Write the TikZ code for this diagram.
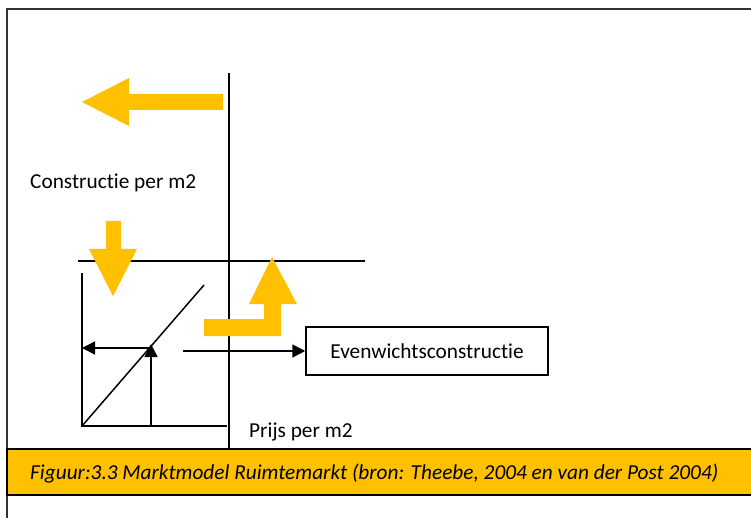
\documentclass[tikz,border=0pt]{standalone}
\usepackage{fontspec}
\setmainfont{Carlito}[Ligatures={NoCommon}]
\definecolor{markyellow}{HTML}{FFC000}
\usetikzlibrary{arrows.meta, positioning, calc}
\tikzset{
    mmline/.style={line width=1.5pt},
    mmarrow/.style={-{Triangle[length=13pt,width=13pt]}, line width=1.5pt},
    mmblock/.style={fill=markyellow, draw=none},
    mmbox/.style={draw, line width=1.5pt, minimum width=242pt, minimum height=48pt, inner sep=0pt, font=\fontsize{21.3}{25}\selectfont},
    mmlabel/.style={inner sep=0pt, anchor=base west, font=\fontsize{21.3}{25}\selectfont},
    mmcaption/.style={inner sep=0pt, anchor=base west, font=\fontsize{21.3}{25}\selectfont\itshape}
}

\begin{document}
\begin{tikzpicture}[x=1pt, y=-1pt]
  \clip (0,0) rectangle (751,518);
  % outer frame
  \draw[line width=2pt, black!80] (7,9) rectangle (780,560);

  % axes and reference lines
  \coordinate (vtop) at (229,73);
  \coordinate (vbot) at (229,449);
  \coordinate (hleft) at (78,261);
  \coordinate (hright) at (365,261);
  \coordinate (orig) at (82,426);
  \coordinate (ytop) at (82,273);
  \coordinate (xend) at (227,426);
  \coordinate (dend) at (204,285);
  \coordinate (pfoot) at (151,426);
  \coordinate (pnt) at (151,344);
  \coordinate (qstart) at (151,348);
  \coordinate (qend) at (82,348);
  \coordinate (rstart) at (183,351);

  \draw[mmline] (vtop) -- (vbot);
  \draw[mmline] (hleft) -- (hright);
  \draw[mmline] (ytop) -- (orig) -- (xend);
  \draw[mmline] (orig) -- (dend);
  \draw[mmarrow] (pfoot) -- (pnt);
  \draw[mmarrow] (qstart) -- (qend);

  \node[mmbox] (evenw) at (427,351) {Evenwichtsconstructie};
  \draw[mmarrow] (rstart) -- (evenw.west);

  % labels
  \node[mmlabel] (constr) at (30,189) {Constructie per m2};
  \node[mmlabel] (prijs) at (249,437) {Prijs per m2};

  % yellow block arrows
  \fill[mmblock] (223,94) -- (129,94) -- (129,78) -- (82,102) -- (129,126)
    -- (129,110) -- (223,110) -- cycle;
  \fill[mmblock] (106,221) -- (121,221) -- (121,249) -- (137,249) -- (113,296)
    -- (89,249) -- (106,249) -- cycle;
  \fill[mmblock] (204,319) -- (264,319) -- (264,304) -- (249,304) -- (272,257)
    -- (297,304) -- (281,304) -- (281,336) -- (204,336) -- cycle;

  % caption
  \draw[fill=markyellow, line width=1.5pt] (7,449) rectangle (780,495);
  \node[mmcaption] (caption) at (30,479) {Figuur:3.3 Marktmodel Ruimtemarkt (bron: Theebe, 2004 en van der Post 2004)};
\end{tikzpicture}
\end{document}
